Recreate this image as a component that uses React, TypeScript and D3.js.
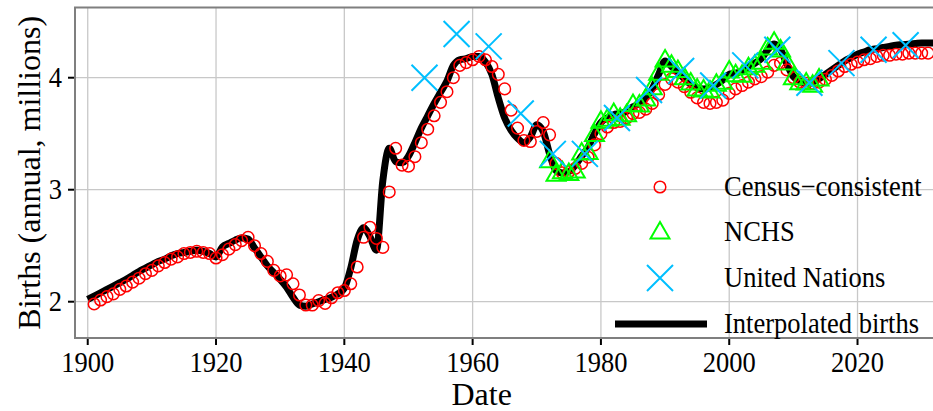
import React from 'react'
import * as d3 from 'd3'

// Census-consistent births (millions), one per year starting 1901
const censusStart = 1901
const censusValues = [
  1.98, 2.015, 2.045, 2.07, 2.11, 2.14, 2.175, 2.21, 2.25, 2.28,
  2.32, 2.35, 2.38, 2.40, 2.43, 2.44, 2.45, 2.44, 2.43, 2.39,
  2.42, 2.47, 2.51, 2.545, 2.575, 2.50, 2.43, 2.36, 2.28, 2.23,
  2.24, 2.16, 2.06, 1.97, 1.97, 2.01, 1.985, 2.035, 2.08, 2.10,
  2.16, 2.31, 2.575, 2.665, 2.565, 2.485, 2.98, 3.37, 3.22, 3.21,
  3.295, 3.42, 3.54, 3.66, 3.78, 3.875, 4.00, 4.11, 4.135, 4.16,
  4.19, 4.16, 4.10, 4.03, 3.90, 3.71, 3.55, 3.44, 3.43, 3.52,
  3.60, 3.49, 3.235, 3.15, 3.16, 3.19, 3.235, 3.29, 3.40, 3.50,
  3.56, 3.60, 3.61, 3.64, 3.68, 3.69, 3.72, 3.77, 3.85, 3.94,
  3.99, 3.96, 3.92, 3.87, 3.82, 3.78, 3.77, 3.78, 3.80, 3.86,
  3.90, 3.93, 3.96, 3.99, 4.01, 4.05, 4.11, 4.13, 4.07, 4.00,
  3.96, 3.95, 3.95, 3.96, 3.985, 4.02, 4.06, 4.10, 4.12, 4.14,
  4.16, 4.17, 4.19, 4.20, 4.20, 4.21, 4.21, 4.22, 4.22, 4.22,
  4.22
]

// NCHS registered births, 1972-2014
const nchsStart = 1972
const nchsValues = [
  3.258, 3.137, 3.160, 3.144, 3.168, 3.327, 3.333, 3.494, 3.612, 3.629,
  3.681, 3.639, 3.669, 3.761, 3.757, 3.809, 3.910, 4.041, 4.158, 4.111,
  4.065, 4.000, 3.953, 3.900, 3.891, 3.881, 3.942, 3.959, 4.059, 4.026,
  4.022, 4.090, 4.112, 4.138, 4.266, 4.316, 4.248, 4.131, 3.999, 3.954,
  3.953, 3.932, 3.988
]

// United Nations, five-year period midpoints
const unYears = [1952.5, 1957.5, 1962.5, 1967.5, 1972.5, 1977.5, 1982.5, 1987.5,
  1992.5, 1997.5, 2002.5, 2007.5, 2012.5, 2017.5, 2022.5, 2027.5]
const unValues = [4.00, 4.39, 4.28, 3.68, 3.32, 3.32, 3.64, 3.89,
  4.06, 3.93, 4.11, 4.25, 3.955, 4.13, 4.25, 4.29]

// Interpolated births, yearly from 1900
const interpStart = 1900
const interpValues = [
  2.02, 2.05, 2.08, 2.11, 2.14, 2.17, 2.20, 2.235, 2.27, 2.30,
  2.33, 2.36, 2.38, 2.41, 2.43, 2.44, 2.45, 2.46, 2.45, 2.43,
  2.40, 2.49, 2.52, 2.55, 2.57, 2.56, 2.48, 2.40, 2.32, 2.26,
  2.20, 2.13, 2.04, 1.97, 1.96, 1.98, 2.00, 2.02, 2.04, 2.07,
  2.12, 2.30, 2.55, 2.66, 2.58, 2.46, 3.08, 3.37, 3.25, 3.24,
  3.30, 3.42, 3.55, 3.66, 3.77, 3.87, 3.97, 4.11, 4.16, 4.17,
  4.19, 4.19, 4.14, 4.03, 3.82, 3.64, 3.53, 3.46, 3.42, 3.47,
  3.58, 3.52, 3.32, 3.17, 3.15, 3.16, 3.22, 3.30, 3.38, 3.50,
  3.60, 3.64, 3.67, 3.68, 3.70, 3.74, 3.77, 3.82, 3.90, 4.03,
  4.15, 4.10, 4.05, 3.99, 3.94, 3.91, 3.90, 3.91, 3.94, 3.98,
  4.03, 4.04, 4.06, 4.10, 4.13, 4.17, 4.25, 4.30, 4.25, 4.12,
  4.01, 3.97, 3.95, 3.96, 3.99, 4.03, 4.07, 4.11, 4.15, 4.18,
  4.21, 4.23, 4.25, 4.26, 4.27, 4.28, 4.29, 4.295, 4.30, 4.305,
  4.31, 4.31, 4.31
]

const xTicks = [1900, 1920, 1940, 1960, 1980, 2000, 2020]
const yTicks = [2, 3, 4]

const legendItems = ['Census\u2212consistent', 'NCHS', 'United Nations', 'Interpolated births']

const W = 933
const H = 411
const FONT = '"Liberation Serif", "Times New Roman", serif'
const SX = 0.93 // the reference text is a little narrow for its height

export default function App() {
  const x = d3.scaleLinear().domain([1898, 2032]).range([74.9, 934.5])
  const y = d3.scaleLinear().domain([1.676, 4.627]).range([338, 7.5])

  const interp = interpValues.map((v, i) => [interpStart + i, v] as [number, number])
  const census = censusValues.map((v, i) => [censusStart + i, v] as [number, number])
  const nchs = nchsValues.map((v, i) => [nchsStart + i, v] as [number, number])
  const un = unYears.map((yr, i) => [yr, unValues[i]] as [number, number])

  const line = d3.line<[number, number]>()
    .x(d => x(d[0]))
    .y(d => y(d[1]))
    .curve(d3.curveMonotoneX)

  const left = 75
  const top = 7.5
  const bottom = 338

  const tri = (cx: number, cy: number) =>
    `M${cx},${cy - 10} L${cx + 9.5},${cy + 6.5} L${cx - 9.5},${cy + 6.5} Z`
  const cross = (cx: number, cy: number, s = 13) =>
    `M${cx - s},${cy - s} L${cx + s},${cy + s} M${cx - s},${cy + s} L${cx + s},${cy - s}`

  const legX = 660
  const legY = [187, 232, 278, 324]

  return (
    <svg width={W} height={H} style={{ position: 'absolute', left: 0, top: 0, background: '#fff' }}
      fontFamily={FONT}>
      <defs>
        <clipPath id="panel">
          <rect x={left} y={top} width={W - left} height={bottom - top} />
        </clipPath>
      </defs>

      {/* grid */}
      <g stroke="#c8c8c8" strokeWidth={1.3}>
        {xTicks.map(t => <line key={t} x1={x(t)} x2={x(t)} y1={top} y2={bottom} />)}
        {yTicks.map(t => <line key={t} x1={left} x2={W} y1={y(t)} y2={y(t)} />)}
      </g>

      <g clipPath="url(#panel)">
        <path d={line(interp) || ''} fill="none" stroke="#000" strokeWidth={7} strokeLinejoin="round" />
        {census.map(d => (
          <circle key={d[0]} cx={x(d[0])} cy={y(d[1])} r={5.8} fill="none" stroke="#ff0000" strokeWidth={1.5} />
        ))}
        {nchs.map(d => (
          <path key={d[0]} d={tri(x(d[0]), y(d[1]))} fill="none" stroke="#00ff00" strokeWidth={2} />
        ))}
        {un.map(d => (
          <path key={d[0]} d={cross(x(d[0]), y(d[1]))} fill="none" stroke="#00bfff" strokeWidth={2} />
        ))}
      </g>

      {/* panel border */}
      <path d={`M${W + 5},${top} H${left} V${bottom} H${W + 5}`} fill="none" stroke="#7f7f7f" strokeWidth={2} />

      {/* axes */}
      <g stroke="#000" strokeWidth={2}>
        {xTicks.map(t => <line key={t} x1={x(t)} x2={x(t)} y1={bottom + 1} y2={bottom + 7} />)}
        {yTicks.map(t => <line key={t} x1={left - 7} x2={left - 1} y1={y(t)} y2={y(t)} />)}
      </g>
      <g fontSize={28.5} fill="#000">
        {xTicks.map(t => (
          <g key={t} transform={`translate(${x(t)},372) scale(${SX},1)`}>
            <text textAnchor="middle">{t}</text>
          </g>
        ))}
        {yTicks.map(t => (
          <g key={t} transform={`translate(62,${y(t)}) scale(${SX},1)`}>
            <text dy="0.34em" textAnchor="end">{t}</text>
          </g>
        ))}
      </g>
      <text x={x(1960) + 9} y={405} textAnchor="middle" fontSize={32}>Date</text>
      <text transform={`translate(40,${(top + bottom) / 2}) rotate(-90)`} textAnchor="middle" fontSize={32}>
        Births (annual, millions)
      </text>

      {/* legend */}
      <g>
        <circle cx={legX} cy={legY[0]} r={5.8} fill="none" stroke="#ff0000" strokeWidth={1.5} />
        <path d={tri(legX, legY[1])} fill="none" stroke="#00ff00" strokeWidth={2} />
        <path d={cross(legX, legY[2])} fill="none" stroke="#00bfff" strokeWidth={2} />
        <line x1={615} x2={707} y1={legY[3]} y2={legY[3]} stroke="#000" strokeWidth={7} />
        {legendItems.map((s, i) => (
          <g key={s} transform={`translate(724,${legY[i]}) scale(${SX},1)`}>
            <text dy="0.33em" fontSize={28.5}>{s}</text>
          </g>
        ))}
      </g>
    </svg>
  )
}
